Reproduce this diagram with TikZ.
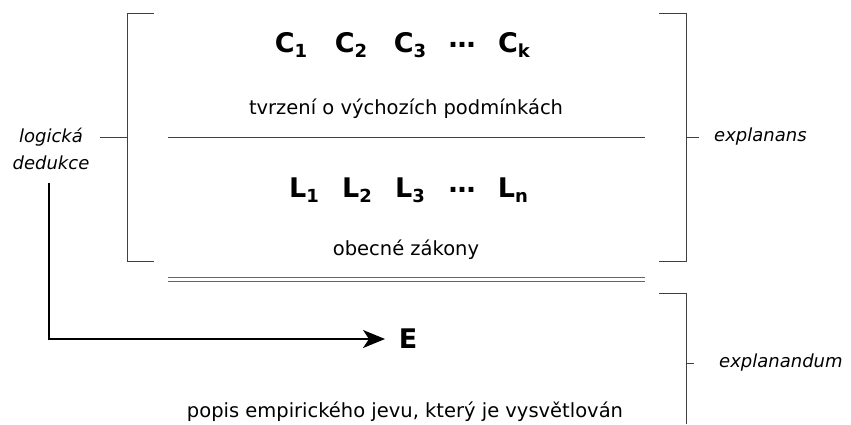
\documentclass[tikz,border=0pt]{standalone}
\usepackage{fontspec}
\setmainfont{DejaVu Sans}
\usetikzlibrary{arrows.meta}
\newcommand{\sbx}[1]{\raisebox{-5pt}{\fontsize{18}{20}\selectfont #1}}
\begin{document}
\begin{tikzpicture}[x=1pt,y=-1pt,
  brk/.style={draw=black!75, line width=1pt},
  lbl/.style={font=\fontsize{18}{27}\selectfont\itshape, inner sep=0pt},
  txt/.style={font=\fontsize{19.5}{22}\selectfont, inner sep=0pt},
  sym/.style={font=\fontsize{27}{30}\selectfont\bfseries, inner sep=0pt},
  arr/.style={line width=1.8pt, -{Stealth[length=22pt,width=18pt,inset=6pt]}}]
\useasboundingbox (0,0) rectangle (851,424);
% symbols
\node[sym] (c1) at (291,45) {C\sbx{1}};
\node[sym] (c2) at (351,45) {C\sbx{2}};
\node[sym] (c3) at (410,45) {C\sbx{3}};
\node[sym] (cd) at (462,45) {\dots};
\node[sym] (ck) at (514,45) {C\sbx{k}};
\node[txt] (tc) at (406,109) {tvrzení o výchozích podmínkách};
\node[sym] (l1) at (304,190) {L\sbx{1}};
\node[sym] (l2) at (357,190) {L\sbx{2}};
\node[sym] (l3) at (410,190) {L\sbx{3}};
\node[sym] (ld) at (462,190) {\dots};
\node[sym] (ln) at (513,190) {L\sbx{n}};
\node[txt] (tl) at (406,250) {obecné zákony};
\node[sym] (e) at (408,339) {E};
\node[txt] (te) at (405,412) {popis empirického jevu, který je vysvětlován};
\node[lbl, align=center] (ld1) at (51,149) {logická\\dedukce};
\node[lbl, anchor=west] (ex1) at (714,137) {explanans};
\node[lbl, anchor=west] (ex2) at (719,363) {explanandum};
% coordinates
\coordinate (lbt) at (154,13);
\coordinate (lbtc) at (127,13);
\coordinate (lbbc) at (127,261);
\coordinate (lbb) at (154,261);
\coordinate (lbm) at (127,137);
\coordinate (lbx) at (100,137);
\coordinate (rat) at (659,13);
\coordinate (ratc) at (686,13);
\coordinate (rabc) at (686,261);
\coordinate (rab) at (659,261);
\coordinate (ram) at (686,137);
\coordinate (ramx) at (699,137);
\coordinate (rbt) at (659,293);
\coordinate (rbtc) at (686,293);
\coordinate (rbb) at (686,424);
\coordinate (rbm) at (686,363);
\coordinate (rbmx) at (694,363);
\coordinate (m1) at (168,137);
\coordinate (m2) at (645,137);
\coordinate (d1) at (168,277);
\coordinate (d2) at (645,277);
\coordinate (d3) at (168,281);
\coordinate (d4) at (645,281);
\coordinate (as) at (49,183);
\coordinate (ac) at (49,339);
\coordinate (ae) at (385,339);
% brackets
\draw[brk] (lbt) -- (lbtc) -- (lbbc) -- (lbb);
\draw[brk] (lbm) -- (lbx);
\draw[brk] (rat) -- (ratc) -- (rabc) -- (rab);
\draw[brk] (ram) -- (ramx);
\draw[brk] (rbt) -- (rbtc) -- (rbb);
\draw[brk] (rbm) -- (rbmx);
% lines
\draw[brk] (m1) -- (m2);
\draw[brk, draw=black!60] (d1) -- (d2);
\draw[brk, draw=black!60] (d3) -- (d4);
% arrow
\draw[arr] (as) -- (ac) -- (ae);
\end{tikzpicture}
\end{document}
